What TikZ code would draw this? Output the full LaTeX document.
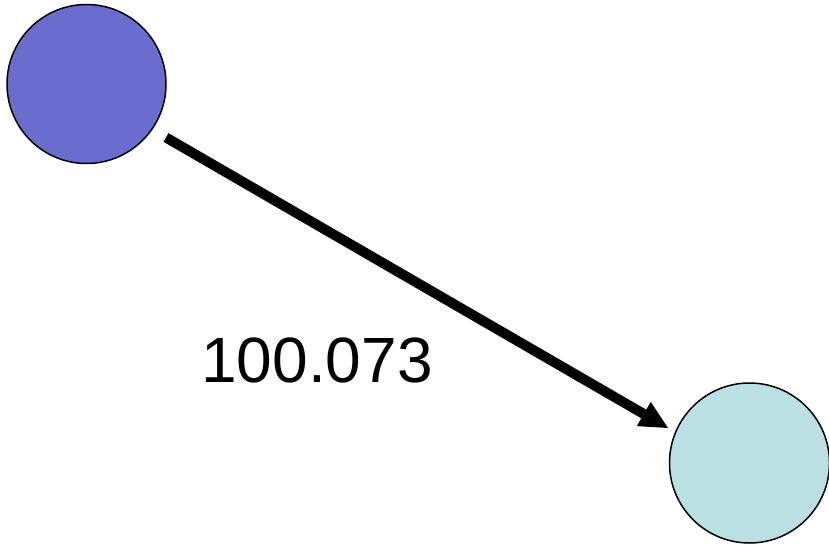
\documentclass[tikz,border=0pt]{standalone}
\usepackage{fontspec}
\setmainfont{Liberation Sans}
\usetikzlibrary{arrows.meta}
\definecolor{nodeA}{RGB}{106,108,206}
\definecolor{nodeB}{RGB}{186,224,227}
\tikzset{
  vertex/.style={circle,draw=black,line width=1.5pt,inner sep=0pt,minimum size=159pt},
  edge/.style={line width=10pt,-{Triangle[length=28pt,width=28pt,line width=0pt]}},
  wlabel/.style={inner sep=0pt,anchor=base,font=\fontsize{64}{70}\selectfont}
}
\begin{document}
\begin{tikzpicture}[x=1pt,y=-1pt]
\useasboundingbox (0,0) rectangle (829,545);
\node[vertex,fill=nodeA] (a) at (86.5,84) {};
\node[vertex,fill=nodeB,minimum size=160pt] (b) at (749.5,463) {};
\draw[edge] ([shift={(79.5,53.5)}]a.center) -- ([shift={(-81.5,-35)}]b.center);
\node[wlabel] (w) at (317,382) {100.073};
\end{tikzpicture}
\end{document}
